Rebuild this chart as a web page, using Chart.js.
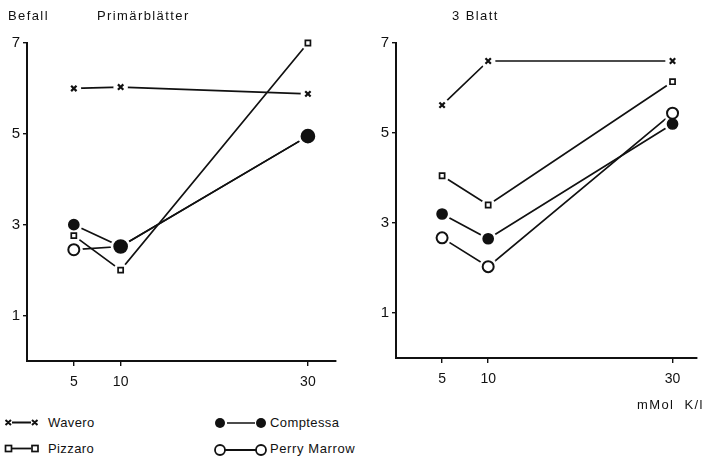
<!DOCTYPE html>
<html>
<head>
<meta charset="utf-8">
<script src="https://cdn.jsdelivr.net/npm/chart.js@4.4.1/dist/chart.umd.min.js"></script>
<style>
  body { margin: 0; background: #fff; font-family: "Liberation Sans", "DejaVu Sans", sans-serif; color: #111; }
  #wrap { position: relative; width: 704px; height: 461px; overflow: hidden; }
  .box { position: absolute; top: 0; height: 400px; width: 352px; }
  .txt { position: absolute; font-size: 13px; white-space: nowrap; letter-spacing: 1.4px; }
  .sym { position: absolute; }
</style>
</head>
<body>
<div id="wrap">
  <div class="box" style="left:0"><canvas id="left"></canvas></div>
  <div class="box" style="left:352px"><canvas id="right"></canvas></div>

  <div class="txt" style="left:8px; top:8px;">Befall</div>
  <div class="txt" style="left:97px; top:8px;">Primärblätter</div>
  <div class="txt" style="left:452px; top:8px;">3 Blatt</div>
  <div class="txt" style="left:637px; top:397px;">mMol&nbsp; K/l</div>

  <!-- legend -->
  <svg class="sym" style="left:2px; top:415px" width="40" height="16">
    <path d="M3.5 5 L9 10 M9 5 L3.5 10 M10 7.5 L29 7.5 M30 5 L35.5 10 M35.5 5 L30 10" stroke="#111" stroke-width="2" fill="none"/>
  </svg>
  <div class="txt" style="left:48px; top:415px; letter-spacing:0.4px">Wavero</div>
  <svg class="sym" style="left:2px; top:441px" width="40" height="16">
    <rect x="3.5" y="4.5" width="6" height="6" stroke="#111" stroke-width="1.7" fill="#fff"/>
    <path d="M10 7.5 L29 7.5" stroke="#111" stroke-width="1.8"/>
    <rect x="30" y="4.5" width="6" height="6" stroke="#111" stroke-width="1.7" fill="#fff"/>
  </svg>
  <div class="txt" style="left:48px; top:441px; letter-spacing:0.4px">Pizzaro</div>
  <svg class="sym" style="left:212px; top:414px" width="56" height="18">
    <circle cx="8" cy="9" r="5" fill="#111"/>
    <path d="M15 9 L43 9" stroke="#111" stroke-width="1.5"/>
    <circle cx="49" cy="9" r="5" fill="#111"/>
  </svg>
  <div class="txt" style="left:270px; top:415px; letter-spacing:0.4px">Comptessa</div>
  <svg class="sym" style="left:212px; top:441px" width="56" height="18">
    <circle cx="8" cy="9" r="5" fill="#fff" stroke="#111" stroke-width="1.8"/>
    <path d="M13 9 L44 9" stroke="#111" stroke-width="2"/>
    <circle cx="49" cy="9" r="5" fill="#fff" stroke="#111" stroke-width="1.8"/>
  </svg>
  <div class="txt" style="left:270px; top:441px; letter-spacing:0.6px">Perry Marrow</div>
</div>

<script>
// K concentration (mMol K/l)
const kLevels = [5, 10, 30];
const yTicks = [1, 3, 5, 7];

// Befall, Primärblätter
const primWavero = [6.0, 6.03, 5.88];
const primPizzaro = [2.76, 2.0, 7.0];
const primComptessa = [3.0, 2.52, 4.95];
const primPerry = [2.45, 2.52, 4.95];

// Befall, 3 Blatt
const blattWavero = [5.62, 6.6, 6.6];
const blattPizzaro = [4.05, 3.4, 6.14];
const blattComptessa = [3.2, 2.65, 5.2];
const blattPerry = [2.67, 2.03, 5.44];

const ink = "#111";

// lines stop short of the markers: white halo, then redraw the points on top
const gapPlugin = {
  id: "gap",
  afterDatasetsDraw(chart) {
    const ctx = chart.ctx;
    const metas = chart.getSortedVisibleDatasetMetas();
    ctx.save();
    ctx.fillStyle = "#fff";
    metas.forEach(m => m.data.forEach(p => {
      const r = p.options.radius + 3.5;
      ctx.beginPath();
      ctx.arc(p.x, p.y, r, 0, Math.PI * 2);
      ctx.fill();
    }));
    ctx.restore();
    metas.slice().reverse().forEach(m => m.data.forEach(p => p.draw(ctx, chart.chartArea)));
  }
};

function pts(vals) {
  return kLevels.map((k, i) => ({ x: k, y: vals[i] }));
}

function makeChart(id, series, opt) {
  const sets = [
    { label: "Wavero", data: pts(series[0]), pointStyle: "crossRot", pointRadius: 3.8, pointBorderWidth: 2.2, order: 3 },
    { label: "Pizzaro", data: pts(series[1]), pointStyle: "rect", pointRadius: 3.6, pointBackgroundColor: "#fff", pointBorderWidth: 1.7, order: 2 },
    { label: "Comptessa", data: pts(series[2]), pointStyle: "circle", pointRadius: opt.compR, pointBackgroundColor: ink, order: 0 },
    { label: "Perry Marrow", data: pts(series[3]), pointStyle: "circle", pointRadius: 5.5, pointBackgroundColor: "#fff", pointBorderWidth: 2, order: 1 },
  ].map(d => Object.assign({ borderColor: ink, pointBorderColor: ink, borderWidth: 1.7, showLine: true, fill: false, tension: 0, clip: false }, d));

  new Chart(document.getElementById(id), {
    type: "scatter",
    data: { datasets: sets },
    plugins: [gapPlugin],
    options: {
      responsive: true,
      maintainAspectRatio: false,
      animation: false,
      layout: { padding: { top: 43, right: opt.padRight, left: 0, bottom: 0 } },
      plugins: { legend: { display: false }, tooltip: { enabled: false } },
      scales: {
        x: {
          type: "linear",
          min: 0,
          max: opt.xMax,
          afterBuildTicks: s => { s.ticks = kLevels.map(v => ({ value: v })); },
          afterFit: s => { s.height = opt.xHeight; },
          grid: { drawOnChartArea: false, tickLength: 5, color: ink, lineWidth: 1.4 },
          border: { display: true, color: ink, width: 2 },
          ticks: { color: ink, padding: 8, font: { family: "Liberation Sans", size: 14 } },
        },
        y: {
          min: 0,
          max: 7,
          afterBuildTicks: s => { s.ticks = yTicks.map(v => ({ value: v })); },
          afterFit: s => { s.width = opt.yWidth; },
          grid: { drawOnChartArea: false, tickLength: 4, color: ink, lineWidth: 1.4 },
          border: { display: true, color: ink, width: 2 },
          ticks: { color: ink, padding: 3, font: { family: "Liberation Sans", size: 15 } },
        },
      },
    },
  });
}

makeChart("left", [primWavero, primPizzaro, primComptessa, primPerry],
  { xMax: 33, padRight: 16, xHeight: 39, yWidth: 27, compR: [5, 6.5, 6.5] });
makeChart("right", [blattWavero, blattPizzaro, blattComptessa, blattPerry],
  { xMax: 32.6, padRight: 1, xHeight: 42, yWidth: 44, compR: [5, 5, 5] });
</script>
</body>
</html>
